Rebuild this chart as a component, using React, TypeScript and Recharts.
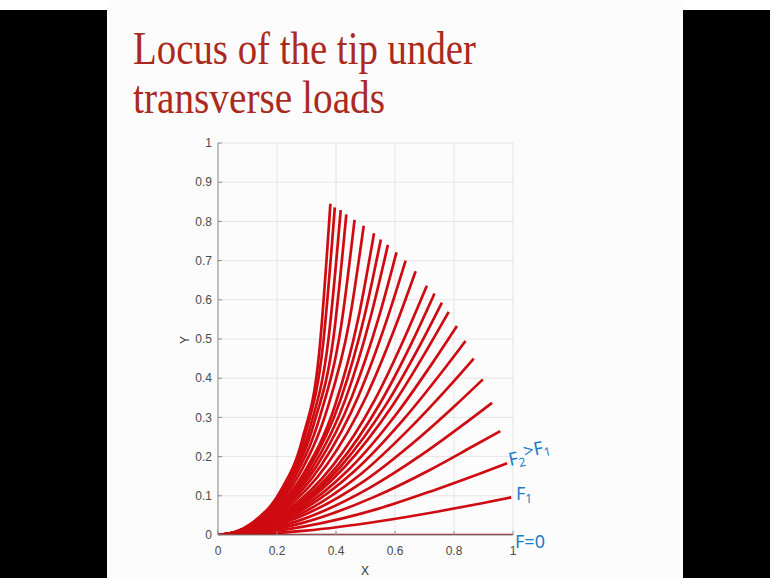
import { LineChart, Line, XAxis, YAxis, CartesianGrid } from 'recharts';

// axis ticks
const xTicks = [0, 0.2, 0.4, 0.6, 0.8, 1];
const yTicks = [0, 0.1, 0.2, 0.3, 0.4, 0.5, 0.6, 0.7, 0.8, 0.9, 1];

// deflected beam shapes, [x, y] from the root to the tip, smallest load first
const unloaded = [[0, 0], [1, 0]];
const load01 = [[0, 0], [0.149, 0.003], [0.298, 0.011], [0.547, 0.035], [0.746, 0.06], [0.895, 0.081], [0.994, 0.096]];
const load02 = [[0, 0], [0.147, 0.006], [0.294, 0.022], [0.539, 0.066], [0.735, 0.115], [0.882, 0.155], [0.98, 0.183]];
const load03 = [[0, 0], [0.144, 0.008], [0.287, 0.031], [0.526, 0.096], [0.718, 0.166], [0.861, 0.225], [0.957, 0.265]];
const load04 = [[0, 0], [0.139, 0.01], [0.279, 0.038], [0.511, 0.119], [0.697, 0.208], [0.836, 0.284], [0.929, 0.337]];
const load05 = [[0, 0], [0.135, 0.012], [0.269, 0.044], [0.494, 0.137], [0.674, 0.243], [0.808, 0.333], [0.898, 0.397]];
const load06 = [[0, 0], [0.13, 0.013], [0.26, 0.047], [0.477, 0.151], [0.65, 0.272], [0.78, 0.376], [0.867, 0.45]];
const load07 = [[0, 0], [0.126, 0.013], [0.252, 0.05], [0.461, 0.162], [0.629, 0.295], [0.755, 0.412], [0.839, 0.495]];
const load08 = [[0, 0], [0.122, 0.014], [0.243, 0.051], [0.446, 0.169], [0.608, 0.312], [0.729, 0.441], [0.81, 0.533]];
const load09 = [[0, 0], [0.117, 0.014], [0.235, 0.052], [0.43, 0.174], [0.587, 0.325], [0.704, 0.467], [0.782, 0.569]];
const load10 = [[0, 0], [0.114, 0.014], [0.228, 0.052], [0.417, 0.176], [0.569, 0.332], [0.683, 0.482], [0.759, 0.593]];
const load11 = [[0, 0], [0.11, 0.014], [0.22, 0.052], [0.404, 0.176], [0.551, 0.338], [0.661, 0.497], [0.734, 0.616]];
const load12 = [[0, 0], [0.106, 0.013], [0.212, 0.052], [0.389, 0.177], [0.531, 0.344], [0.637, 0.511], [0.708, 0.636]];
const load13 = [[0, 0], [0.101, 0.013], [0.201, 0.052], [0.369, 0.179], [0.503, 0.354], [0.603, 0.535], [0.67, 0.673]];
const load14 = [[0, 0], [0.095, 0.013], [0.191, 0.051], [0.35, 0.178], [0.477, 0.356], [0.572, 0.548], [0.636, 0.7]];
const load15 = [[0, 0], [0.091, 0.012], [0.182, 0.05], [0.333, 0.174], [0.454, 0.353], [0.545, 0.555], [0.605, 0.721]];
const load16 = [[0, 0], [0.086, 0.012], [0.173, 0.047], [0.317, 0.168], [0.432, 0.346], [0.518, 0.558], [0.576, 0.74]];
const load17 = [[0, 0], [0.083, 0.011], [0.166, 0.046], [0.304, 0.164], [0.414, 0.342], [0.497, 0.56], [0.552, 0.754]];
const load18 = [[0, 0], [0.079, 0.011], [0.159, 0.043], [0.291, 0.158], [0.397, 0.331], [0.476, 0.554], [0.529, 0.77]];
const load19 = [[0, 0], [0.074, 0.01], [0.148, 0.04], [0.272, 0.15], [0.371, 0.323], [0.445, 0.544], [0.494, 0.789]];
const load20 = [[0, 0], [0.069, 0.01], [0.139, 0.038], [0.255, 0.141], [0.347, 0.306], [0.417, 0.531], [0.463, 0.804]];
const load21 = [[0, 0], [0.065, 0.009], [0.131, 0.035], [0.239, 0.131], [0.326, 0.286], [0.392, 0.507], [0.435, 0.818]];
const load22 = [[0, 0], [0.062, 0.008], [0.125, 0.034], [0.229, 0.124], [0.312, 0.274], [0.374, 0.497], [0.416, 0.829]];
const load23 = [[0, 0], [0.059, 0.008], [0.119, 0.032], [0.218, 0.117], [0.297, 0.259], [0.356, 0.485], [0.396, 0.836]];
const load24 = [[0, 0], [0.057, 0.007], [0.114, 0.03], [0.21, 0.11], [0.286, 0.245], [0.343, 0.465], [0.381, 0.845]];

const loaded = [
  load01, load02, load03, load04, load05, load06, load07, load08,
  load09, load10, load11, load12, load13, load14, load15, load16,
  load17, load18, load19, load20, load21, load22, load23, load24,
];

const toPoints = (pts: number[][]) => pts.map(([x, y]) => ({ x, y }));

const RED = '#cf0b12';
const AXIS = '#8e8e8e';
const tickStyle = { fontSize: 12, fill: '#4a4a4a', fontFamily: "'Liberation Sans', Arial, sans-serif" };
const blank = () => '';

export default function App() {
  return (
    <div style={{ position: 'absolute', left: 0, top: 0, width: 770, height: 578, background: '#000', overflow: 'hidden' }}>
      <div style={{ position: 'absolute', left: 0, top: 0, width: 770, height: 10, background: '#fff' }} />
      <div style={{ position: 'absolute', left: 107, top: 0, width: 576, height: 578, background: '#fcfcfc' }} />

      <div style={{ position: 'absolute', left: 0, top: 0 }}>
        <LineChart width={770} height={578} margin={{ top: 143, right: 257, bottom: 13, left: 0 }}>
          <CartesianGrid stroke="#e4e4e4" strokeWidth={1} />
          <XAxis
            type="number"
            dataKey="x"
            domain={[0, 1]}
            ticks={xTicks}
            height={30}
            stroke={AXIS}
            tick={tickStyle}
            tickSize={-4}
            tickMargin={15}
            allowDataOverflow
          />
          <XAxis
            xAxisId="top"
            orientation="top"
            type="number"
            dataKey="x"
            domain={[0, 1]}
            ticks={xTicks}
            height={0}
            stroke={AXIS}
            tickFormatter={blank}
            tickSize={-4}
            allowDataOverflow
          />
          <YAxis
            type="number"
            dataKey="y"
            domain={[0, 1]}
            ticks={yTicks}
            width={218}
            stroke={AXIS}
            tick={tickStyle}
            tickSize={-4}
            tickMargin={10}
            allowDataOverflow
          />
          <YAxis
            yAxisId="right"
            orientation="right"
            type="number"
            dataKey="y"
            domain={[0, 1]}
            ticks={yTicks}
            width={0}
            stroke={AXIS}
            tickFormatter={blank}
            tickSize={-4}
            allowDataOverflow
          />
          {loaded.map((pts, i) => (
            <Line
              key={i}
              data={toPoints(pts)}
              dataKey="y"
              type="monotone"
              stroke={RED}
              strokeWidth={2.7}
              dot={false}
              activeDot={false}
              isAnimationActive={false}
            />
          ))}
          <Line
            data={toPoints(unloaded)}
            dataKey="y"
            type="linear"
            stroke="#980d10"
            strokeWidth={2.7}
            dot={false}
            activeDot={false}
            isAnimationActive={false}
          />
        </LineChart>
      </div>

      <svg width={770} height={578} style={{ position: 'absolute', left: 0, top: 0, pointerEvents: 'none' }}>
        <g fill="#ab2a1d" fontFamily="'Liberation Serif', 'Times New Roman', serif" fontSize={47}>
          <text x={133} y={64} textLength={343} lengthAdjust="spacingAndGlyphs">Locus of the tip under</text>
          <text x={133} y={113} textLength={252} lengthAdjust="spacingAndGlyphs">transverse loads</text>
        </g>
        <g fill="#333" fontFamily="'Liberation Sans', Arial, sans-serif" fontSize={12}>
          <text x={365} y={575} textAnchor="middle">X</text>
          <text x={189} y={340} textAnchor="middle" transform="rotate(-90 189 340)">Y</text>
        </g>
        <g fill="#1d7cc6" fontFamily="'Noto Sans', sans-serif" fontSize={18}>
          <text x={515} y={548}>F=0</text>
          <text x={516} y={500}>F<tspan fontSize={12} dy={3}>1</tspan></text>
          <text x={510} y={466} transform="rotate(-12 510 466)">
            F<tspan fontSize={12} dy={3}>2</tspan><tspan dy={-8}>&gt;F</tspan><tspan fontSize={12} dy={3}>1</tspan>
          </text>
        </g>
      </svg>
    </div>
  );
}
